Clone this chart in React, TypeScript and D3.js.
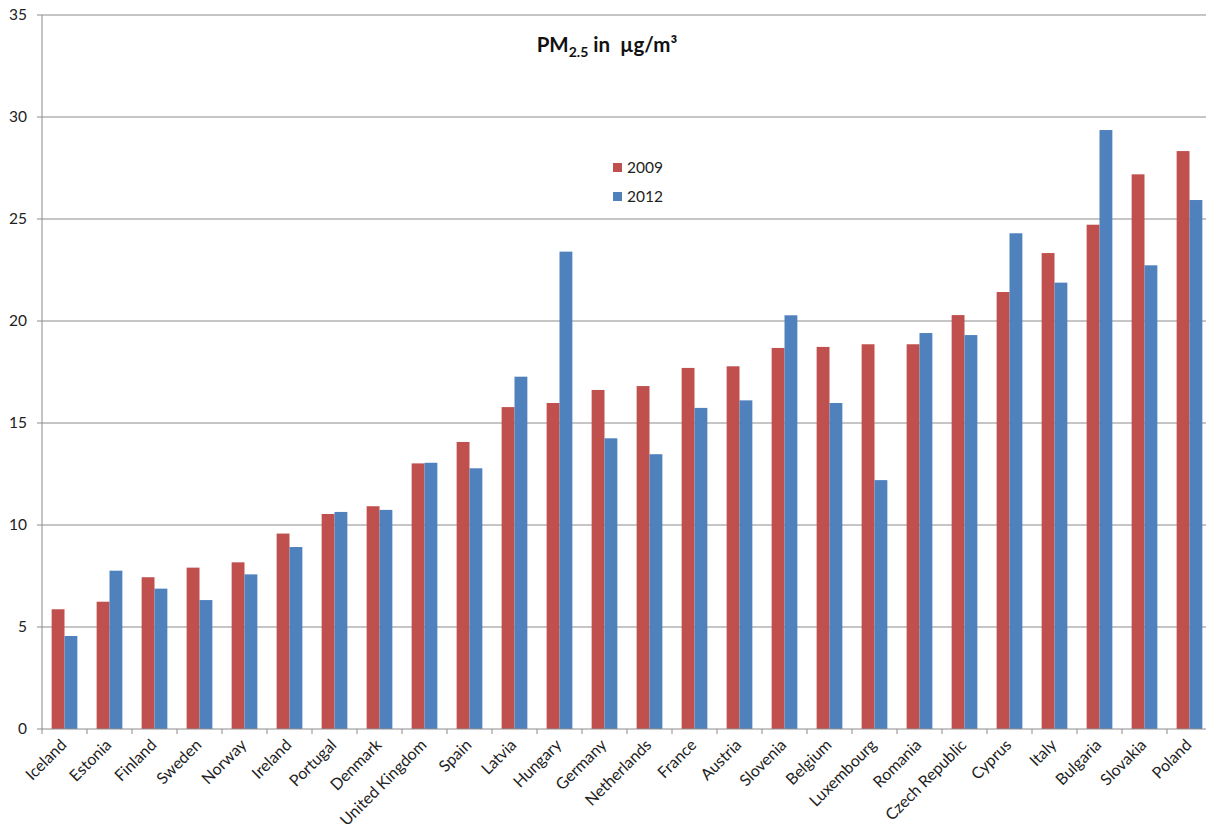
import React from "react";
import * as d3 from "d3";

const countries = [
  "Iceland", "Estonia", "Finland", "Sweden", "Norway", "Ireland", "Portugal", "Denmark",
  "United Kingdom", "Spain", "Latvia", "Hungary", "Germany", "Netherlands", "France",
  "Austria", "Slovenia", "Belgium", "Luxembourg", "Romania", "Czech Republic", "Cyprus",
  "Italy", "Bulgaria", "Slovakia", "Poland",
];
const values2009 = [
  5.87, 6.24, 7.44, 7.91, 8.17, 9.58, 10.54, 10.92, 13.02, 14.07, 15.78, 15.98, 16.62,
  16.81, 17.7, 17.78, 18.68, 18.73, 18.86, 18.86, 20.29, 21.42, 23.33, 24.72, 27.19, 28.33,
];
const values2012 = [
  4.56, 7.76, 6.88, 6.32, 7.58, 8.92, 10.64, 10.74, 13.05, 12.78, 17.27, 23.4, 14.25,
  13.47, 15.74, 16.11, 20.28, 15.98, 12.2, 19.41, 19.31, 24.3, 21.88, 29.36, 22.73, 25.93,
];
const seriesNames = ["2009", "2012"];
const seriesColors = ["#C0504D", "#4F81BD"];
const yTicks = [0, 5, 10, 15, 20, 25, 30, 35];

const W = 1206;
const H = 837;
const FONT = "Lato, 'Open Sans', sans-serif";

export default function App() {
  const x0 = 42;
  const x1 = 42 + 26 * 45;
  const yTop = 15;
  const yBottom = 729;

  const x = d3.scaleBand<string>().domain(countries).range([x0, x1]).paddingInner(0).paddingOuter(0);
  const y = d3.scaleLinear().domain([0, 35]).range([yBottom, yTop]);
  const bw = x.bandwidth();
  const barW = bw / 3.5;
  const gap = (bw - 2 * barW) / 2;
  const series = [values2009, values2012];

  return (
    <svg width={W} height={H} style={{ position: "absolute", left: 0, top: 0, background: "#fff" }}>
      <rect x={0} y={0} width={W} height={H} fill="#fff" />
      {yTicks.map((t) => (
        <g key={t}>
          {t > 0 && (
            <line x1={x0} x2={W} y1={y(t)} y2={y(t)} stroke="#8c8c8c" strokeWidth={1} />
          )}
          <line x1={x0 - 5} x2={x0} y1={y(t)} y2={y(t)} stroke="#8c8c8c" strokeWidth={1} />
          <text
            x={27}
            y={y(t)}
            dy="0.35em"
            textAnchor="end"
            fontFamily={FONT}
            fontSize={15.5}
            fill="#222"
          >
            {t}
          </text>
        </g>
      ))}
      {countries.map((c, i) => (
        <g key={c}>
          {series.map((vals, s) => (
            <rect
              key={s}
              x={(x(c) as number) + gap + s * barW}
              y={y(vals[i])}
              width={barW}
              height={y(0) - y(vals[i])}
              fill={seriesColors[s]}
            />
          ))}
        </g>
      ))}
      <line x1={x0} x2={x0} y1={yTop} y2={yBottom} stroke="#8c8c8c" strokeWidth={1} />
      <line x1={x0} x2={W} y1={yBottom} y2={yBottom} stroke="#8c8c8c" strokeWidth={1} />
      {countries.map((c, i) => (
        <line
          key={"t" + i}
          x1={(x(c) as number)}
          x2={(x(c) as number)}
          y1={yBottom}
          y2={yBottom + 5}
          stroke="#8c8c8c"
        />
      ))}
      {countries.map((c) => {
        const cx = (x(c) as number) + bw / 2 + 3;
        const cy = yBottom + 17;
        return (
          <text
            key={"l" + c}
            x={cx}
            y={cy}
            textAnchor="end"
            transform={`rotate(-45 ${cx} ${cy})`}
            fontFamily={FONT}
            fontSize={16}
            fill="#222"
          >
            {c}
          </text>
        );
      })}
      <text
        x={607}
        y={52}
        textAnchor="middle"
        fontFamily={FONT}
        fontSize={20.5}
        fontWeight="bold"
        fill="#111"
        style={{ whiteSpace: "pre" }}
      >
        PM
        <tspan fontSize={14} dy={5}>2.5</tspan>
        <tspan dy={-5}>{" in \u00A0\u00B5g/m\u00B3"}</tspan>
      </text>
      {seriesNames.map((n, s) => (
        <g key={n} transform={`translate(613, ${163 + s * 29})`}>
          <rect x={0} y={0} width={9} height={9} fill={seriesColors[s]} />
          <text x={14} y={4.5} dy="0.35em" fontFamily={FONT} fontSize={15.5} fill="#222">
            {n}
          </text>
        </g>
      ))}
    </svg>
  );
}
